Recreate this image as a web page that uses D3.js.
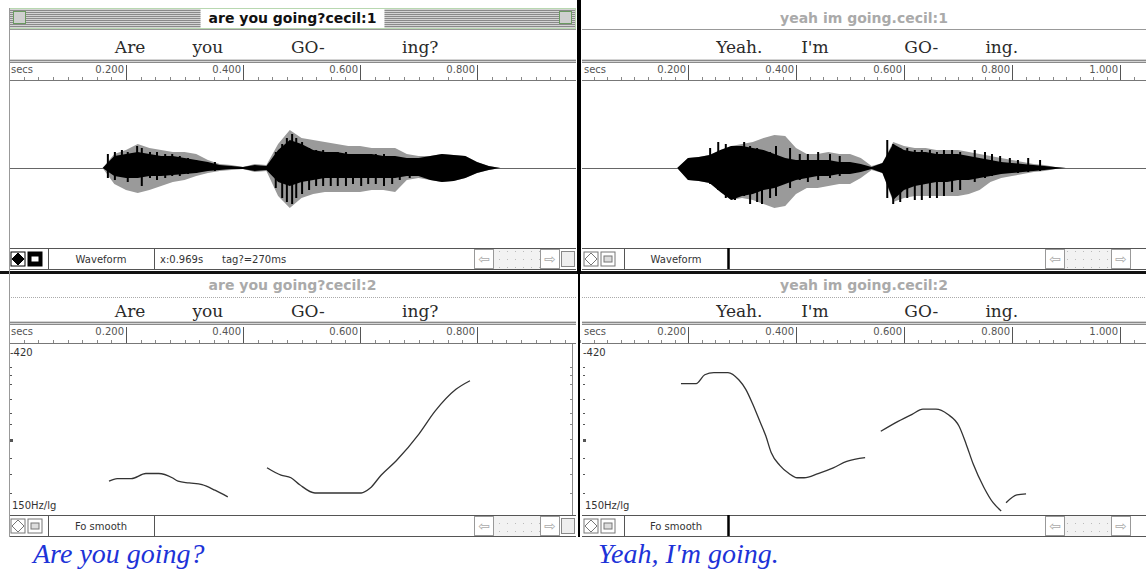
<!DOCTYPE html>
<html>
<head>
<meta charset="utf-8">
<script src="https://cdn.jsdelivr.net/npm/d3@7"></script>
<style>
body{margin:0;background:#fff;}
svg{display:block;}
</style>
</head>
<body>
<svg id="svg1" width="1146" height="569"></svg>
<script>
// ---- data ----
var leftWords = ["Are", "you", "GO-", "ing?"];
var leftWordTimes = [0.207, 0.34, 0.511, 0.703];
var rightWords = ["Yeah.", "I'm", "GO-", "ing."];
var rightWordTimes = [0.295, 0.435, 0.632, 0.781];

var leftRulerTicks = [0.2, 0.4, 0.6, 0.8];
var leftRulerLabels = ["0.200", "0.400", "0.600", "0.800"];
var rightRulerTicks = [0.2, 0.4, 0.6, 0.8, 1.0];
var rightRulerLabels = ["0.200", "0.400", "0.600", "0.800", "1.000"];

// waveform envelopes (relative amplitude, up and down from zero line)
var leftWaveT = [0.16,0.18,0.20,0.22,0.24,0.26,0.28,0.30,0.32,0.34,0.36,0.38,0.40,0.42,0.44,0.46,0.48,0.50,0.52,0.54,0.56,0.58,0.60,0.62,0.64,0.66,0.68,0.70,0.72,0.74,0.76,0.78,0.80,0.82,0.84];
var leftGrayUp  = [0,14,18,24,20,18,16,16,14,8,4,3,1,4,3,24,38,30,28,26,24,22,22,20,20,20,14,12,12,14,13,12,6,2,0];
var leftBlackUp = [0,12,14,16,14,12,12,10,8,6,3,2,1,3,2,18,28,24,18,16,16,14,14,14,12,12,10,10,12,14,13,12,6,2,0];
var leftBlackDn = [0,8,10,10,8,8,7,6,5,3,2,1,1,3,2,14,18,14,12,10,10,10,10,10,10,10,8,8,12,14,13,10,5,2,0];
var leftGrayDn  = [0,16,22,25,22,18,14,12,8,5,3,2,1,4,3,28,40,30,26,24,24,24,24,22,22,24,12,10,12,14,13,10,5,2,0];
var leftPulseT  = [0.169,0.181,0.193,0.203,0.219,0.227,0.241,0.253,0.267,0.279,0.292,0.306,0.32,0.352,0.456,0.467,0.475,0.484,0.491,0.501,0.513,0.525,0.537,0.55,0.562,0.576,0.588,0.602,0.614,0.627,0.641,0.655,0.668,0.685];
var leftPulseUp = [14,16,18,16,22,20,16,16,14,14,12,10,8,6,16,24,30,34,30,26,20,18,18,16,16,16,14,14,14,14,14,12,10,8];
var leftPulseDn = [10,12,8,14,10,18,10,12,10,8,8,6,5,3,20,30,34,36,30,26,22,18,18,18,18,18,16,18,16,16,18,16,12,10];

var rightWaveT = [0.18,0.20,0.22,0.24,0.26,0.28,0.30,0.32,0.34,0.36,0.38,0.40,0.42,0.44,0.46,0.48,0.50,0.52,0.54,0.56,0.58,0.60,0.62,0.64,0.66,0.68,0.70,0.72,0.74,0.76,0.78,0.80,0.82,0.84,0.86,0.88,0.90];
var rightGrayUp  = [0,10,11,13,18,22,24,26,30,33,32,20,14,14,16,14,14,10,2,5,26,22,20,20,18,18,18,16,14,12,10,8,6,4,3,1,0];
var rightBlackUp = [0,10,11,13,18,22,22,20,18,14,10,8,8,8,8,6,6,4,1,5,24,18,16,16,14,14,14,12,10,8,6,5,4,3,2,1,0];
var rightBlackDn = [0,12,13,15,24,32,28,26,22,20,16,12,10,8,8,6,6,4,1,5,32,22,18,16,14,14,12,12,10,8,6,5,4,3,2,1,0];
var rightGrayDn  = [0,12,13,15,24,32,30,32,36,40,38,26,20,20,18,16,16,10,2,5,34,30,28,28,28,28,28,26,22,14,10,8,6,4,3,1,0];
var rightPulseT  = [0.241,0.256,0.27,0.287,0.304,0.315,0.328,0.337,0.352,0.363,0.389,0.407,0.422,0.441,0.463,0.481,0.569,0.58,0.593,0.606,0.62,0.633,0.648,0.661,0.674,0.689,0.704,0.731,0.75,0.763,0.778,0.796,0.811,0.83,0.852];
var rightPulseUp = [20,26,24,22,26,22,20,18,16,22,20,14,14,16,14,12,28,24,20,20,18,18,18,16,18,18,16,18,16,14,12,10,8,10,8];
var rightPulseDn = [16,22,30,32,28,36,34,36,30,28,20,12,14,12,10,8,30,36,34,30,32,32,30,30,28,24,22,14,10,8,6,5,5,4,3];

// pitch tracks [time s, Hz]
var leftPitch1 = [[0.171,182],[0.185,185],[0.209,185],[0.234,191],[0.256,191],[0.279,186],[0.289,182],[0.308,180],[0.33,178],[0.352,172],[0.374,165]];
var leftPitch2 = [[0.441,198],[0.465,189],[0.482,186],[0.497,178],[0.523,169],[0.602,169],[0.617,174],[0.636,189],[0.662,207],[0.701,245],[0.728,282],[0.764,324],[0.788,342]];
var rightPitch1 = [[0.187,336],[0.215,336],[0.231,355],[0.248,360],[0.274,360],[0.294,344],[0.307,324],[0.32,295],[0.333,265],[0.344,242],[0.354,218],[0.37,201],[0.387,191],[0.402,186],[0.415,186],[0.441,191],[0.469,198],[0.494,206],[0.528,211]];
var rightPitch2 = [[0.557,249],[0.589,265],[0.615,277],[0.635,286],[0.659,286],[0.681,277],[0.702,257],[0.715,230],[0.728,203],[0.748,175],[0.765,159],[0.78,151]];
var rightPitch3 = [[0.789,159],[0.809,167],[0.826,168]];
var pitchTicks = [373, 355, 334, 304, 279, 260, 237, 211, 191, 169];

// ---- drawing ----
var svg = d3.select("#svg1");
var defs = svg.append("defs");
var pat = defs.append("pattern").attr("id", "stripes")
    .attr("width", 2).attr("height", 2).attr("patternUnits", "userSpaceOnUse");
pat.append("rect").attr("width", 2).attr("height", 2).attr("fill", "#d4d4d4");
pat.append("rect").attr("width", 2).attr("height", 1).attr("fill", "#8a8a8a");
var pat2 = defs.append("pattern").attr("id", "dots")
    .attr("width", 8).attr("height", 8).attr("patternUnits", "userSpaceOnUse");
pat2.append("rect").attr("width", 8).attr("height", 8).attr("fill", "#f2f2f2");
pat2.append("rect").attr("x", 3).attr("y", 3).attr("width", 1).attr("height", 1).attr("fill", "#bbb");

var sysFont = "'DejaVu Sans', sans-serif";

function smallText(g, x, y, s, anchor, col) {
  return g.append("text").attr("x", x).attr("y", y).text(s)
    .attr("font-family", sysFont).attr("font-size", 10)
    .attr("text-anchor", anchor || "start").attr("fill", col || "#444");
}

function drawRuler(g, x, L, R, top, bottom, ticks, labels) {
  g.append("rect").attr("x", L).attr("y", top).attr("width", R - L).attr("height", 4).attr("fill", "url(#stripes)");
  g.append("line").attr("x1", L).attr("x2", R).attr("y1", bottom + 0.5).attr("y2", bottom + 0.5).attr("stroke", "#777");
  var tEnd = x.invert(R);
  var minor = d3.range(0, tEnd, 0.025);
  g.selectAll(null).data(minor).enter().append("line")
    .attr("x1", function(d) { return Math.round(x(d)) + 0.5; })
    .attr("x2", function(d) { return Math.round(x(d)) + 0.5; })
    .attr("y1", bottom - 3).attr("y2", bottom).attr("stroke", "#888");
  g.selectAll(null).data(ticks).enter().append("line")
    .attr("x1", function(d) { return Math.round(x(d)) + 0.5; })
    .attr("x2", function(d) { return Math.round(x(d)) + 0.5; })
    .attr("y1", top + 6).attr("y2", bottom).attr("stroke", "#555");
  g.selectAll(null).data(ticks).enter().append("text")
    .attr("x", function(d) { return x(d) - 2; })
    .attr("y", top + 14)
    .attr("text-anchor", "end")
    .attr("font-family", sysFont).attr("font-size", 10).attr("fill", "#555")
    .text(function(d, i) { return labels[i]; });
  smallText(g, L + 2, top + 14, "secs", "start", "#555");
}

function drawWords(g, x, words, times, base) {
  g.selectAll(null).data(words).enter().append("text")
    .attr("x", function(d, i) { return x(times[i]); })
    .attr("y", base)
    .attr("text-anchor", "middle")
    .attr("font-family", "'DejaVu Serif', serif").attr("font-size", 17)
    .attr("fill", "#2a2a2a")
    .text(function(d) { return d; });
}

function drawStatus(g, o, top, name, info) {
  var L = o.L, R = o.R;
  g.append("line").attr("x1", L).attr("x2", R).attr("y1", top + 0.5).attr("y2", top + 0.5).attr("stroke", "#555");
  g.append("line").attr("x1", L).attr("x2", R).attr("y1", top + 21.5).attr("y2", top + 21.5).attr("stroke", "#555");
  // tool icons
  var ic = o.active && top < 260 ? "#000" : "#777";
  g.append("rect").attr("x", L + 2).attr("y", top + 4).attr("width", 14).attr("height", 14).attr("fill", "#fff").attr("stroke", ic);
  g.append("path").attr("d", "M" + (L + 9) + "," + (top + 5) + " l6,6 l-6,6 l-6,-6z").attr("fill", ic === "#000" ? "#000" : "none").attr("stroke", ic);
  g.append("rect").attr("x", L + 19).attr("y", top + 4).attr("width", 14).attr("height", 14).attr("fill", ic === "#000" ? "#000" : "#fff").attr("stroke", ic);
  g.append("rect").attr("x", L + 22).attr("y", top + 8).attr("width", 8).attr("height", 6).attr("fill", ic === "#000" ? "#fff" : "#ddd").attr("stroke", ic);
  // name box
  g.append("line").attr("x1", o.nameBox[0] + 0.5).attr("x2", o.nameBox[0] + 0.5).attr("y1", top).attr("y2", top + 21).attr("stroke", "#555");
  g.append("line").attr("x1", o.nameBox[1] + 0.5).attr("x2", o.nameBox[1] + 0.5).attr("y1", top).attr("y2", top + 21)
    .attr("stroke", o.boldDivider ? "#000" : "#555").attr("stroke-width", o.boldDivider ? 2.5 : 1);
  smallText(g, (o.nameBox[0] + o.nameBox[1]) / 2, top + 15, name, "middle", "#333");
  if (info) {
    smallText(g, o.nameBox[1] + 6, top + 15, info[0], "start", "#333");
    smallText(g, o.nameBox[1] + 68, top + 15, info[1], "start", "#333");
  }
  // scroll bar
  var sx = o.scroll;
  g.append("rect").attr("x", sx + 20).attr("y", top + 1).attr("width", 46).attr("height", 20).attr("fill", "url(#dots)");
  [sx, sx + 66].forEach(function(bx, i) {
    g.append("rect").attr("x", bx + 0.5).attr("y", top + 1.5).attr("width", 19).attr("height", 19).attr("fill", "#fff").attr("stroke", "#999");
    g.append("text").attr("x", bx + 10).attr("y", top + 16).attr("text-anchor", "middle")
      .attr("font-family", sysFont).attr("font-size", 14).attr("fill", "#aaa").text(i ? "\u21E8" : "\u21E6");
  });
  if (o.growBox) {
    g.append("rect").attr("x", sx + 87.5).attr("y", top + 3.5).attr("width", 13).attr("height", 15).attr("fill", "#eee").attr("stroke", "#888");
  }
}

function drawSide(o) {
  var L = o.L, R = o.R;
  var x = d3.scaleLinear().domain([0, 1]).range([o.x0, o.x0 + o.pps]);
  var g = svg.append("g");

  // ---------- window 1 : waveform ----------
  if (o.active) {
    g.append("rect").attr("x", L).attr("y", 8).attr("width", R - L).attr("height", 20).attr("fill", "url(#stripes)");
    g.append("rect").attr("x", L + 0.5).attr("y", 8.5).attr("width", R - L - 1).attr("height", 20)
      .attr("fill", "none").attr("stroke", "#b8d8b0");
    [L + 4, R - 17].forEach(function(bx) {
      g.append("rect").attr("x", bx + 0.5).attr("y", 11.5).attr("width", 12).attr("height", 12)
        .attr("fill", "#cfcfcf").attr("stroke", "#6a9a60");
    });
    var tt = g.append("text").attr("x", (L + R) / 2).attr("y", 23).attr("text-anchor", "middle")
      .attr("font-family", sysFont).attr("font-size", 14).attr("font-weight", "bold")
      .attr("fill", "#111").text(o.title1);
    var bb = tt.node().getBBox();
    g.insert("rect", function() { return tt.node(); })
      .attr("x", bb.x - 8).attr("y", 9).attr("width", bb.width + 16).attr("height", 19).attr("fill", "#fff");
  } else {
    g.append("text").attr("x", (L + R) / 2).attr("y", 23).attr("text-anchor", "middle")
      .attr("font-family", sysFont).attr("font-size", 14).attr("font-weight", "bold")
      .attr("fill", "#aaa").text(o.title1);
  }
  g.append("line").attr("x1", L).attr("x2", R).attr("y1", 29.5).attr("y2", 29.5).attr("stroke", "#999");

  drawWords(g, x, o.words, o.wordTimes, 53);
  drawRuler(g, x, L, R, 59, 80, o.ticks, o.tickLabels);

  // waveform
  var wc = 168;
  var wy = d3.scaleLinear().domain([-80, 80]).range([wc + 80, wc - 80]);
  var idx = d3.range(o.waveT.length);
  g.append("line").attr("x1", L).attr("x2", R).attr("y1", wc + 0.5).attr("y2", wc + 0.5).attr("stroke", "#666");
  var grayArea = d3.area()
    .x(function(i) { return x(o.waveT[i]); })
    .y0(function(i) { return wy(-o.grayDn[i]); })
    .y1(function(i) { return wy(o.grayUp[i]); });
  var blackArea = d3.area()
    .x(function(i) { return x(o.waveT[i]); })
    .y0(function(i) { return wy(-o.blackDn[i]); })
    .y1(function(i) { return wy(o.blackUp[i]); });
  g.append("path").attr("d", grayArea(idx)).attr("fill", "#9a9a9a");
  g.append("path").attr("d", blackArea(idx)).attr("fill", "#000");
  g.selectAll(null).data(o.pulseT).enter().append("line")
    .attr("x1", function(d) { return x(d); })
    .attr("x2", function(d) { return x(d); })
    .attr("y1", function(d, i) { return wy(o.pulseUp[i]); })
    .attr("y2", function(d, i) { return wy(-o.pulseDn[i]); })
    .attr("stroke", "#000").attr("stroke-width", 2);

  drawStatus(g, o, 248, "Waveform", o.info);

  // ---------- window 2 : pitch ----------
  g.append("text").attr("x", (L + R) / 2).attr("y", 290).attr("text-anchor", "middle")
    .attr("font-family", sysFont).attr("font-size", 14).attr("font-weight", "bold")
    .attr("fill", "#aaa").text(o.title2);
  g.append("line").attr("x1", L).attr("x2", R).attr("y1", 297.5).attr("y2", 297.5)
    .attr("stroke", "#aaa").attr("stroke-dasharray", "1,1");
  drawWords(g, x, o.words, o.wordTimes, 317);
  drawRuler(g, x, L, R, 321, 343, o.ticks, o.tickLabels);

  var py = d3.scaleLog().domain([150, 420]).range([512, 348]);
  g.selectAll(null).data(pitchTicks).enter().append("rect")
    .attr("x", L + 1).attr("y", function(d) { return Math.round(py(d)); })
    .attr("width", function(d, i) { return i === 6 ? 3 : 2; })
    .attr("height", function(d, i) { return i === 6 ? 3 : 1; })
    .attr("fill", "#555");
  if (o.rightAxis) {
    g.append("line").attr("x1", R - 3.5).attr("x2", R - 3.5).attr("y1", 344).attr("y2", 515).attr("stroke", "#888");
    g.selectAll(null).data(pitchTicks).enter().append("line")
      .attr("x1", R - 6).attr("x2", R - 3)
      .attr("y1", function(d) { return Math.round(py(d)) + 0.5; })
      .attr("y2", function(d) { return Math.round(py(d)) + 0.5; })
      .attr("stroke", "#888");
  }
  smallText(g, L + 1, 356, "-420", "start", "#333");
  smallText(g, L + 3, 509, "150Hz/lg", "start", "#333");

  var pline = d3.line()
    .x(function(d) { return x(d[0]); })
    .y(function(d) { return py(d[1]); })
    .curve(d3.curveMonotoneX);
  o.pitch.forEach(function(seg) {
    g.append("path").attr("d", pline(seg)).attr("fill", "none")
      .attr("stroke", "#333").attr("stroke-width", 1.3);
  });

  drawStatus(g, o, 515, "Fo smooth", null);

  // caption
  g.append("text").attr("x", o.capX).attr("y", 563)
    .attr("font-family", "'Liberation Serif', 'Times New Roman', serif")
    .attr("font-style", "italic").attr("font-size", 28)
    .attr("fill", "#1d33d8").text(o.caption);
}

drawSide({
  L: 9, R: 576, x0: 9, pps: 585, active: true,
  title1: "are you going?cecil:1", title2: "are you going?cecil:2",
  words: leftWords, wordTimes: leftWordTimes,
  ticks: leftRulerTicks, tickLabels: leftRulerLabels,
  waveT: leftWaveT, grayUp: leftGrayUp, blackUp: leftBlackUp, blackDn: leftBlackDn, grayDn: leftGrayDn,
  pulseT: leftPulseT, pulseUp: leftPulseUp, pulseDn: leftPulseDn,
  pitch: [leftPitch1, leftPitch2],
  nameBox: [48, 154], boldDivider: false, scroll: 474, growBox: true, rightAxis: true,
  info: ["x:0.969s", "tag?=270ms"],
  caption: "Are you going?", capX: 33
});

drawSide({
  L: 582, R: 1146, x0: 580, pps: 540, active: false,
  title1: "yeah im going.cecil:1", title2: "yeah im going.cecil:2",
  words: rightWords, wordTimes: rightWordTimes,
  ticks: rightRulerTicks, tickLabels: rightRulerLabels,
  waveT: rightWaveT, grayUp: rightGrayUp, blackUp: rightBlackUp, blackDn: rightBlackDn, grayDn: rightGrayDn,
  pulseT: rightPulseT, pulseUp: rightPulseUp, pulseDn: rightPulseDn,
  pitch: [rightPitch1, rightPitch2, rightPitch3],
  nameBox: [624, 728], boldDivider: true, scroll: 1045, growBox: false, rightAxis: false,
  info: null,
  caption: "Yeah, I'm going.", capX: 598
});

// window frames / dividers
svg.append("rect").attr("x", 0).attr("y", 271).attr("width", 1146).attr("height", 3).attr("fill", "#111");
svg.append("rect").attr("x", 577).attr("y", 0).attr("width", 4).attr("height", 274).attr("fill", "#000");
svg.append("rect").attr("x", 578).attr("y", 274).attr("width", 2).attr("height", 263).attr("fill", "#000");
svg.append("line").attr("x1", 9.5).attr("x2", 9.5).attr("y1", 8).attr("y2", 537).attr("stroke", "#999");
</script>
</body>
</html>
